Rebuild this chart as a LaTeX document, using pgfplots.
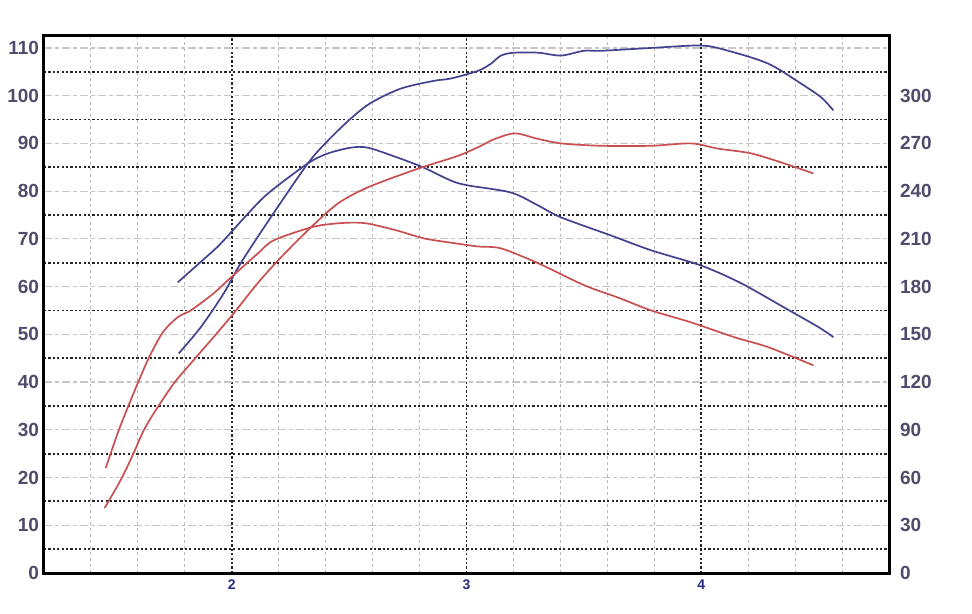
\documentclass[border=0pt]{standalone}
\usepackage{fontspec}
\setmainfont{Liberation Sans}
\usepackage{pgfplots}
\pgfplotsset{compat=1.18}
\definecolor{curveblue}{HTML}{42428F}
\definecolor{curvered}{HTML}{C85050}
\definecolor{ticklab}{HTML}{4D4D6B}
\definecolor{xlab}{HTML}{2A2A80}

\pgfplotsset{
  dyno/.style={
    scale only axis,
    width=422.5bp, height=268.5bp,
    xmin=1.2, xmax=4.8,
    axis line style={line width=1.5bp, black},
    major tick length=0pt, minor tick length=0pt,
    /pgf/number format/assume math mode=true,
    ticklabel style={font=\fontsize{9.5bp}{10bp}\selectfont\bfseries, text=ticklab},
  },
  curve/.style={line width=0.85bp, smooth, tension=0.5},
}

\begin{document}
\begin{tikzpicture}
\begin{axis}[dyno,
  ymin=0, ymax=112.5,
  xtick={2,3,4},
  minor xtick={1.4,1.6,1.8,2.2,2.4,2.6,2.8,3.2,3.4,3.6,3.8,4.2,4.4,4.6},
  ytick={0,10,...,110},
  minor ytick={5,15,...,105},
  xmajorgrids, xminorgrids, ymajorgrids, yminorgrids,
  major x grid style={black!85, line width=0.9bp, dash pattern=on 1.1bp off 1.1bp},
  minor x grid style={gray!55, line width=0.5bp, dash pattern=on 1.5bp off 1.5bp},
  major y grid style={gray!45, line width=0.6bp, dash pattern=on 4bp off 1.5bp on 2bp off 1.5bp},
  minor y grid style={black!85, line width=0.9bp, dash pattern=on 1.1bp off 1.1bp},
  xticklabel style={font=\fontsize{7bp}{8bp}\selectfont\bfseries, text=xlab},
  yticklabel style={xshift=1bp},
]
% blue, upper (peaks near 110)
\addplot[curveblue, curve] coordinates {
 (1.774,46.0) (1.868,51.5) (1.966,58.6) (2.038,64.9) (2.166,74.5) (2.324,85.8)
 (2.410,90.6) (2.507,95.2) (2.593,98.5) (2.721,101.5) (2.861,103.1) (2.934,103.6)
 (3.049,105.2) (3.104,106.7) (3.147,108.4) (3.203,109.0) (3.305,109.0) (3.403,108.4)
 (3.500,109.4) (3.574,109.4) (3.787,110.0) (4.000,110.5) (4.115,109.4) (4.286,106.7)
 (4.426,102.5) (4.512,99.6) (4.563,96.9)
};
% blue, lower (peaks near 89)
\addplot[curveblue, curve] coordinates {
 (1.770,60.9) (1.923,67.6) (1.966,69.7) (2.060,74.8) (2.154,79.5) (2.324,85.8) (2.410,87.9)
 (2.507,89.1) (2.580,89.1) (2.708,87.0) (2.819,84.9) (2.934,82.2) (3.006,81.2)
 (3.190,79.7) (3.305,77.0) (3.403,74.5) (3.616,70.7) (3.787,67.6) (4.000,64.4)
 (4.170,60.7) (4.354,55.6) (4.500,51.5) (4.563,49.4)
};
% red, upper (peaks near 92)
\addplot[curvered, curve] coordinates {
 (1.458,13.6) (1.527,19.5) (1.578,24.7) (1.625,29.9) (1.676,34.1) (1.753,39.7)
 (1.825,43.9) (1.910,48.7) (2.008,54.4) (2.110,60.7) (2.209,66.1) (2.337,72.4)
 (2.452,77.4) (2.580,80.8) (2.793,84.7) (2.964,87.4) (3.062,89.5) (3.104,90.6)
 (3.203,92.1) (3.300,91.0) (3.403,90.0) (3.574,89.5) (3.787,89.5) (3.957,90.0) (4.072,88.9)
 (4.213,87.9) (4.354,85.8) (4.478,83.7)
};
% red, lower (peaks near 74)
\addplot[curvered, curve] coordinates {
 (1.463,22.0) (1.514,29.3) (1.557,34.7) (1.599,39.7) (1.646,45.0) (1.706,50.4)
 (1.770,53.6) (1.825,55.0) (1.923,58.6) (1.996,61.9) (2.110,66.9) (2.179,69.7)
 (2.337,72.4) (2.420,73.1) (2.507,73.4) (2.580,73.2) (2.700,71.8) (2.819,70.1) (2.934,69.2) (3.049,68.4)
 (3.147,68.0) (3.305,64.9) (3.501,60.3) (3.646,57.7) (3.787,55.0) (3.957,52.5)
 (4.141,49.4) (4.286,47.3) (4.478,43.5)
};
\end{axis}
\begin{axis}[dyno,
  ymin=0, ymax=337.5,
  axis x line=none,
  axis y line*=right,
  ytick={0,30,...,300},
  yticklabel style={xshift=2bp},
]
\end{axis}
\pgfresetboundingbox
\path[use as bounding box] ([xshift=-22bp,yshift=-20.5bp]current axis.south west)
  rectangle ([xshift=41.5bp,yshift=18bp]current axis.north east);
\end{tikzpicture}
\end{document}
